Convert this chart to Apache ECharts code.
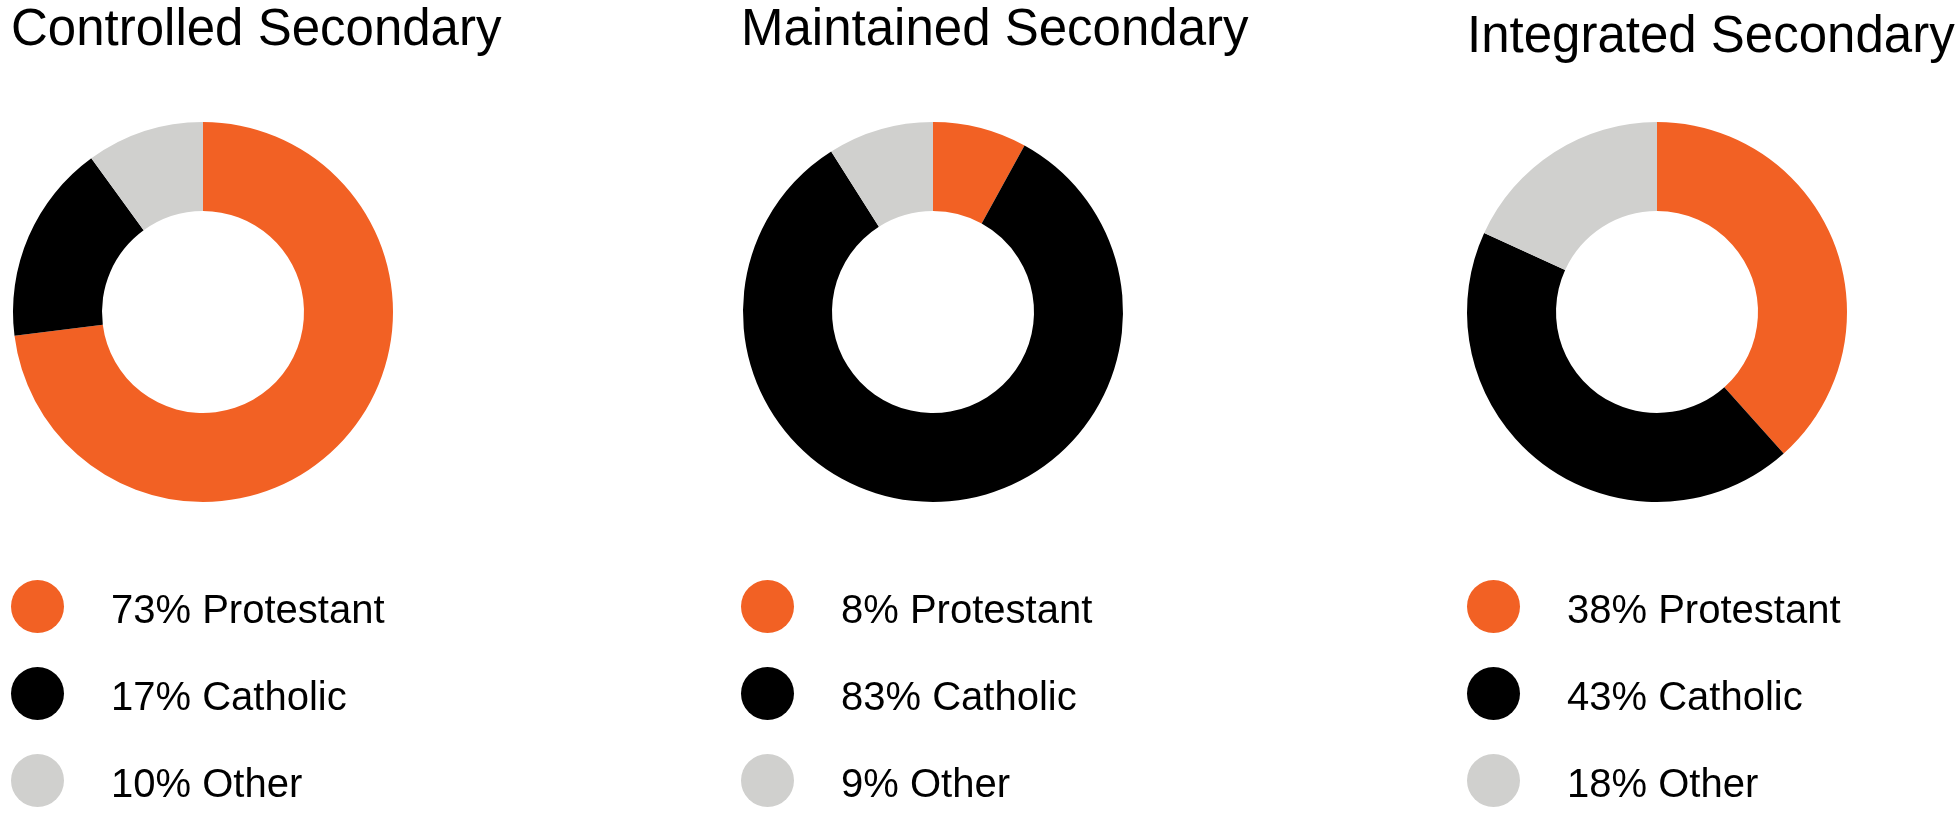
<!DOCTYPE html>
<html>
<head>
<meta charset="utf-8">
<script src="https://cdn.jsdelivr.net/npm/echarts@6/dist/echarts.min.js"></script>
<style>
  html, body { margin: 0; padding: 0; background: #fff; }
  #chart { width: 1958px; height: 819px; }
</style>
</head>
<body>
<div id="chart"></div>
<script>
// data
let groups = ['Protestant', 'Catholic', 'Other'];
let schoolTypes = ['Controlled Secondary', 'Maintained Secondary', 'Integrated Secondary'];
let controlled = [73, 17, 10];
let maintained = [8, 83, 9];
let integrated = [38, 43, 18];

let colors = ['#f26124', '#000000', '#d0d0ce'];
let fontFamily = '"Liberation Sans", Arial, sans-serif';

let shares = [controlled, maintained, integrated];
let centerX = [203, 933, 1657];
let titleLeft = [11, 741, 1467];
let titleTop = [5, 5, 12];
let legendLeft = [11, 741, 1467];

let option = {
    animation: false,
    title: schoolTypes.map(function (name, i) {
        return {
            text: name,
            left: titleLeft[i],
            top: titleTop[i],
            padding: 0,
            textStyle: {
                fontFamily: fontFamily,
                fontSize: 51,
                fontWeight: 'normal',
                color: '#000'
            }
        };
    }),
    legend: shares.map(function (values, i) {
        return {
            data: groups,
            orient: 'vertical',
            left: legendLeft[i],
            top: 580,
            padding: 0,
            icon: 'circle',
            itemWidth: 53,
            itemHeight: 53,
            itemGap: 34,
            selectedMode: false,
            formatter: function (name) {
                return '{t|' + values[groups.indexOf(name)] + '% ' + name + '}';
            },
            textStyle: {
                fontFamily: fontFamily,
                fontSize: 40,
                color: '#000',
                padding: [0, 0, 0, 42],
                rich: {
                    t: {
                        fontFamily: fontFamily,
                        fontSize: 40,
                        color: '#000',
                        padding: [10, 0, 0, 0]
                    }
                }
            }
        };
    }),
    series: shares.map(function (values, i) {
        return {
            name: schoolTypes[i],
            type: 'pie',
            center: [centerX[i], 312],
            radius: [101, 190],
            startAngle: 90,
            clockwise: true,
            label: { show: false },
            labelLine: { show: false },
            emphasis: { disabled: true },
            silent: true,
            data: values.map(function (v, j) {
                return { name: groups[j], value: v, itemStyle: { color: colors[j] } };
            })
        };
    })
};

let myChart = echarts.init(document.getElementById('chart'));
myChart.setOption(option);
</script>
</body>
</html>
